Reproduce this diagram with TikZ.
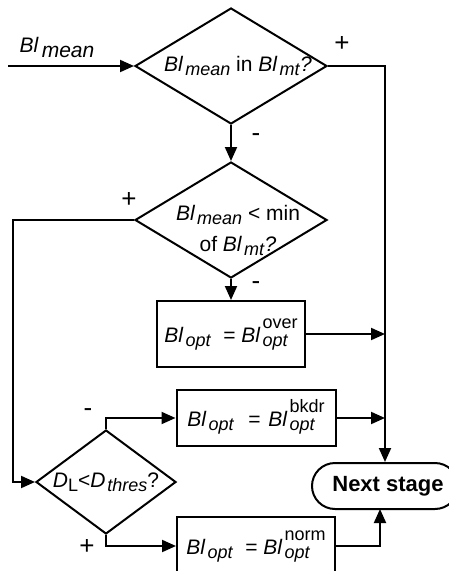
\documentclass[tikz,border=0pt]{standalone}
\usepackage{fontspec}
\setmainfont{Liberation Sans}
\usetikzlibrary{shapes.geometric,arrows.meta}
\newcommand{\subtxt}[1]{\kern2pt\raisebox{-0.35ex}{\fontsize{18}{18}\selectfont\textit{#1}}}
\newcommand{\Bl}[1]{\textit{Bl}\subtxt{#1}}
\newcommand{\Blopt}[1]{\textit{Bl}\kern2pt\raisebox{-0.35ex}{\fontsize{18}{18}\selectfont\begin{tabular}[b]{@{}l@{}}#1\\\textit{opt}\end{tabular}}}
\begin{document}
\begin{tikzpicture}[x=1pt,y=-1pt,font=\fontsize{21}{25}\selectfont,line width=2pt,>={Triangle[length=14pt,width=12pt]}]
	\tikzstyle{Decision} = [diamond, draw, inner sep=0pt]
	\tikzstyle{Action} = [rectangle, draw, inner sep=0pt]
	\tikzstyle{Sign} = [inner sep=0pt, font=\fontsize{26}{26}\selectfont]
	\useasboundingbox (0,0) rectangle (449,571);
	\node (d1) at (231,66) [Decision, minimum width=192pt, minimum height=116pt] {\makebox[0pt]{\kern14pt\Bl{mean} in \Bl{mt}\textit{?}}};
	\node (d2) at (231,220) [Decision, minimum width=192pt, minimum height=116pt] {\makebox[0pt]{\kern14pt\raisebox{-16pt}[0pt][0pt]{\begin{tabular}{c}\Bl{mean} {<} min\\[6pt] of \Bl{mt}\textit{?}\end{tabular}}}};
	\node (over) at (231,334) [Action, minimum width=148pt, minimum height=66pt] {\Bl{opt}\hspace{12pt}= \Blopt{over}};
	\node (bkdr) at (256,418) [Action, minimum width=159pt, minimum height=56pt] {\Bl{opt}\hspace{14pt}= \kern2pt\Blopt{bkdr}};
	\node (norm) at (256,546) [Action, minimum width=158pt, minimum height=58pt] {\Bl{opt}\hspace{12pt}= \Blopt{norm}};
	\node (d3) at (106,482) [Decision, shape aspect=1.35, minimum width=140pt, minimum height=104pt] {\textit{D}\raisebox{-0.35ex}{\fontsize{18}{18}\selectfont L}<\textit{D}\subtxt{thres}?};
	\node (nx) at (385,486) [rectangle, draw, rounded corners=23pt, minimum width=146pt, minimum height=46pt, font=\fontsize{22}{22}\selectfont\bfseries] {\kern6pt Next stage};
	\node (inlabel) at (57,47) {\textit{Bl}\kern3pt\raisebox{-0.45ex}{\textit{mean}}};
	\coordinate (in) at (8,66);
	\coordinate (lft) at (13,220);
	\coordinate (nxb) at (380,509);
	\node (s1) at (342,44) [Sign] {+};
	\node (s2) at (256,138) [Sign] {-};
	\node (s3) at (129,200) [Sign] {+};
	\node (s4) at (256,286) [Sign] {-};
	\node (s5) at (88,413) [Sign] {-};
	\node (s6) at (87,547) [Sign] {+};
	\draw [->] (in) to (d1.west);
	\draw [->] (d1.east) -| (nx.north);
	\draw [->] (d1.south) to (d2.north);
	\draw [->] (d2.west) -- (lft) |- (d3.west);
	\draw [->] (d2.south) to (over.north);
	\draw [->] (over.east) to (over.east -| nx.north);
	\draw [->] (d3.north) |- (bkdr.west);
	\draw [->] (bkdr.east) to (bkdr.east -| nx.north);
	\draw [->] (d3.south) |- (norm.west);
	\draw [->] (norm.east) -| (nxb);
\end{tikzpicture}
\end{document}
